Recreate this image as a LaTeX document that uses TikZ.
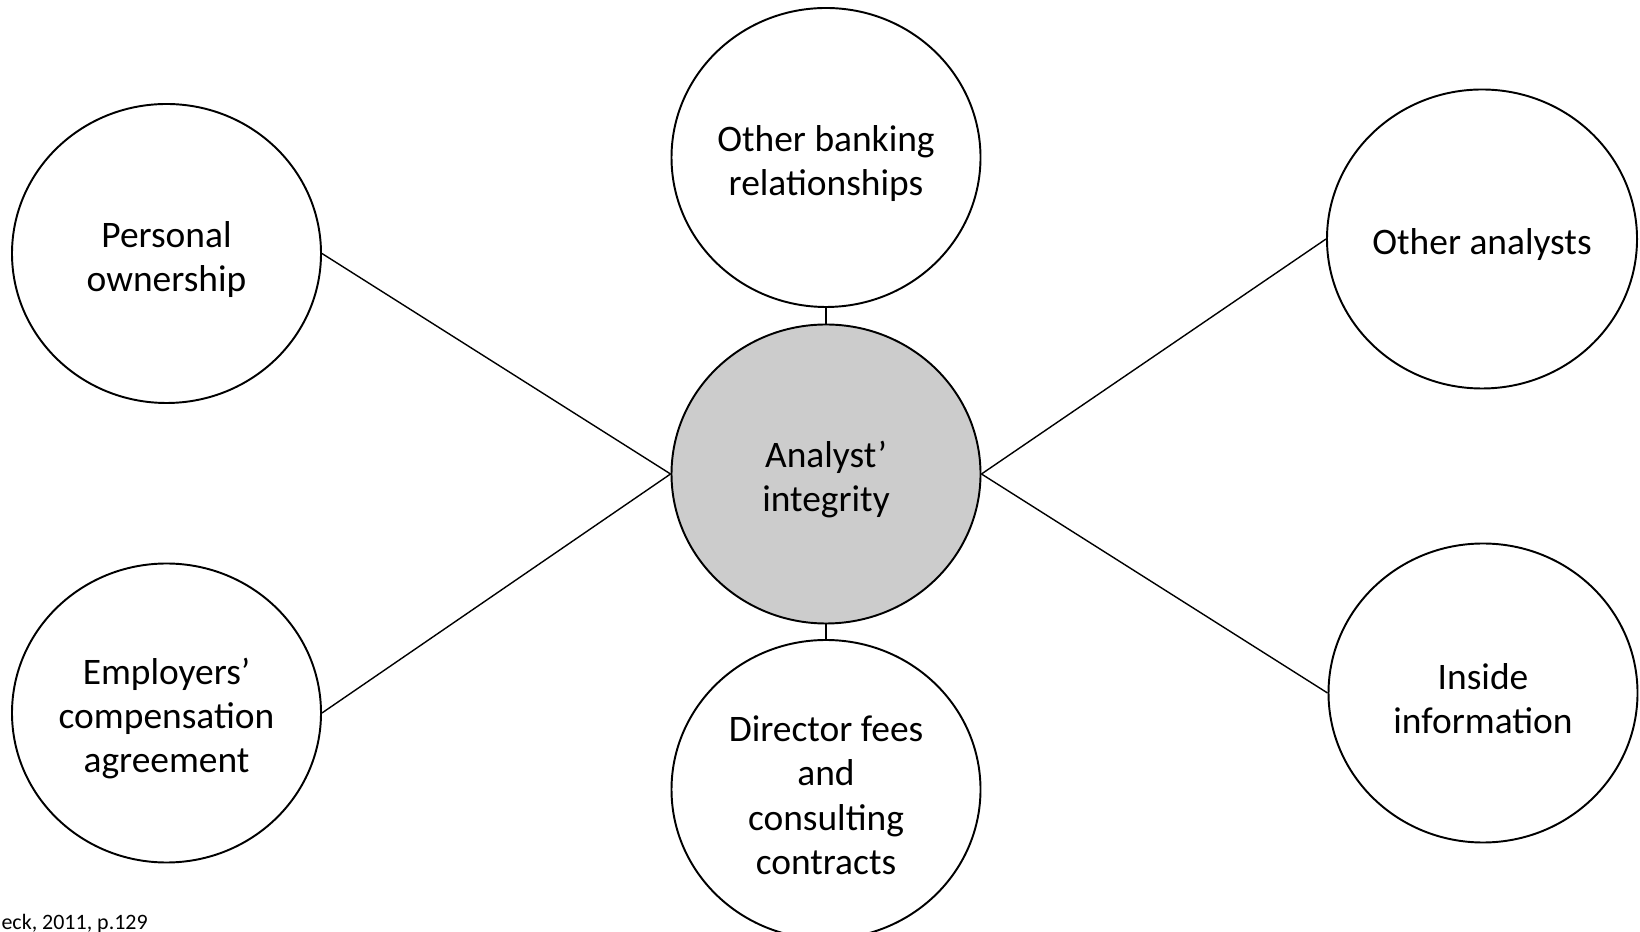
\documentclass[tikz,border=0pt]{standalone}
\usepackage{fontspec}
\setmainfont{Carlito}
\usetikzlibrary{shapes.geometric}

% taller first line, so the text sits a little below the centre
\newcommand{\fstrut}{\rule{0pt}{1em}}

\begin{document}
\begin{tikzpicture}[
  factor/.style={ellipse,draw,line width=1.1pt,inner sep=0pt,
    minimum width=6.18cm,minimum height=5.98cm,align=center,
    font=\fontsize{21.3}{25.2}\selectfont},
  link/.style={line width=0.8pt}
]
  \useasboundingbox (0,0) rectangle (32.8,18.62);

  % centre and the column above/below it
  \node[factor,fill=black!20] (integrity) at (16.52,9.14) {\fstrut Analyst’\\integrity};
  \node[factor] (banking) at (16.52,15.47) {\fstrut Other banking\\relationships};
  \node[factor] (director) at (16.52,2.83) {\fstrut Director fees\\and\\consulting\\contracts};

  % left side
  \node[factor] (ownership) at (3.33,13.55) {\fstrut Personal\\ownership};
  \node[factor] (compensation) at (3.33,4.36) {\fstrut Employers’\\compensation\\agreement};

  % right side
  \node[factor] (analysts) at (29.64,13.84) {\fstrut Other analysts};
  \node[factor] (inside) at (29.66,4.76) {\fstrut Inside\\information};

  \draw[link] (banking.south) -- (integrity.north);
  \draw[link] (integrity.south) -- (director.north);
  \draw[link] (ownership.east) -- (integrity.west);
  \draw[link] (compensation.east) -- (integrity.west);
  \draw[link] (analysts.west) -- (integrity.east);
  \draw[link] (inside.west) -- (integrity.east);

  \node[anchor=base east,inner sep=0pt,font=\fontsize{12.5}{15}\selectfont]
    (source) at (2.96,0.03) {eck, 2011, p.129};
\end{tikzpicture}
\end{document}
